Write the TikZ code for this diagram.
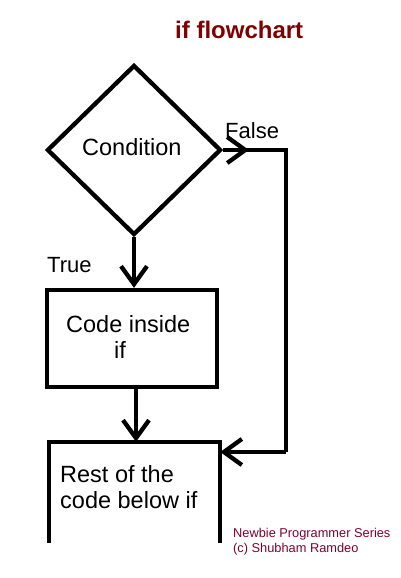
\documentclass[tikz,border=0pt]{standalone}
\usepackage{fontspec}
\setmainfont{Liberation Sans}
\usetikzlibrary{shapes.geometric,arrows.meta,calc}
\definecolor{titlered}{RGB}{128,0,0}
\definecolor{markred}{RGB}{128,0,48}
\tikzset{
  thick line/.style={line width=4.3pt},
  arr/.style={thick line,-{Straight Barb[length=18pt,width=26pt,line width=4.3pt]}},
  lbl/.style={inner sep=0pt,anchor=base west,font=\fontsize{23.5}{26}\selectfont},
}
\begin{document}
\begin{tikzpicture}[x=1pt,y=-1pt]
\useasboundingbox[fill=white] (0,0) rectangle (400,578);
% title
\node[inner sep=0pt,anchor=base west,text=titlered,font=\fontsize{24}{26}\selectfont\bfseries] (title) at (175,38) {if flowchart};
% shapes
\node[draw,thick line,shape=diamond,inner sep=0pt,minimum width=174pt,minimum height=170pt] (cond) at (134,150) {};
\node[draw,thick line,rectangle,inner sep=0pt,minimum width=170pt,minimum height=97pt] (code) at (132,338.5) {};
\node[rectangle,inner sep=0pt,minimum width=171pt,minimum height=101pt] (rest) at (134.5,492.5) {};
\draw[thick line] (rest.south west) -- (rest.north west) -- (rest.north east) -- (rest.south east);
% texts
\node[lbl] (condt) at (82,155) {Condition};
\node[lbl] (codet1) at (66,332) {Code inside};
\node[lbl] (codet2) at (114,358) {if};
\node[lbl] (restt1) at (60,482) {Rest of the};
\node[lbl] (restt2) at (60,508) {code below if};
\node[lbl,font=\fontsize{22}{24}\selectfont] (falset) at (225,138) {False};
\node[lbl,font=\fontsize{22}{24}\selectfont] (truet) at (47,272) {True};
\node[inner sep=0pt,anchor=base west,text=markred,font=\fontsize{12.8}{14}\selectfont] (mark1) at (233,537) {Newbie Programmer Series};
\node[inner sep=0pt,anchor=base west,text=markred,font=\fontsize{12.8}{14}\selectfont] (mark2) at (233,552) {(c) Shubham Ramdeo};
% connectors
\coordinate (c1) at (286,150);
\coordinate (c2) at (286,452);
\draw[thick line] (cond.east) -- (c1) -- (c2);
\draw[arr] (cond.east) -- ($(cond.east)!0.41!(c1)$);
\draw[arr] (c2) -- (c2 -| rest.east);
\draw[arr] (cond.south) -- (cond.south |- code.north);
\draw[arr] ([xshift=4pt]code.south) -- ([xshift=4pt]code.south |- rest.north);
\end{tikzpicture}
\end{document}
